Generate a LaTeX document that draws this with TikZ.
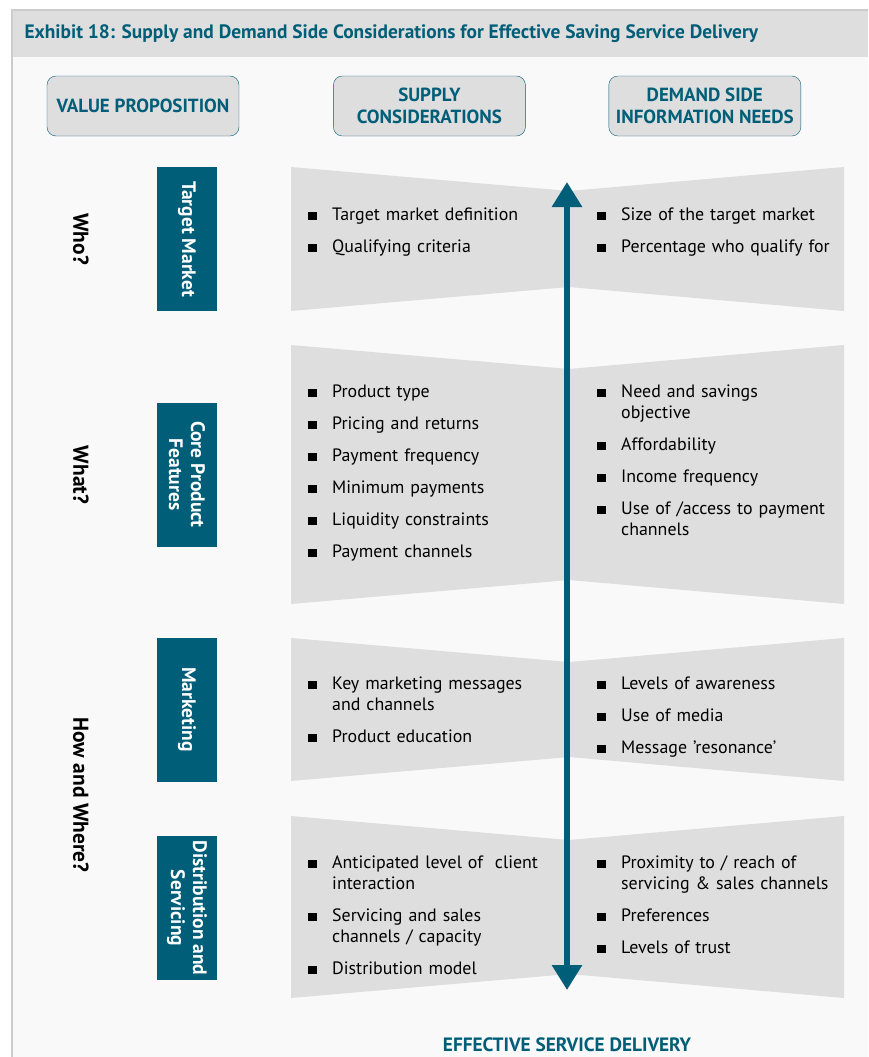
\documentclass[tikz,border=0pt]{standalone}
\usepackage{fontspec}
\setmainfont{PT Sans}
\usepackage{xcolor}
\usetikzlibrary{arrows.meta, positioning}
\definecolor{petrol}{RGB}{0,94,120}
\definecolor{panelgray}{RGB}{222,222,222}
\definecolor{pagegray}{RGB}{249,249,249}
\definecolor{rulegray}{RGB}{204,204,204}

% one bullet entry of a list, hanging indent for wrapped lines
\newcommand{\itm}[1]{\hangindent=24pt\hangafter=1
  \makebox[24pt][l]{\rule{8.5pt}{8.5pt}}#1\par}
\newcommand{\nl}{\hfil\break}

\begin{document}
\begin{tikzpicture}[
  x=1pt, y=-1pt,
  hdr/.style={rectangle, rounded corners=9pt, draw=petrol, fill=panelgray,
              minimum width=192pt, minimum height=60pt, align=center,
              text=petrol, font=\bfseries\fontsize{19}{22}\selectfont},
  tab/.style={rectangle, fill=petrol, text=white, rotate=-90,
              minimum width=144pt, minimum height=60pt, align=center,
              inner sep=2pt, font=\bfseries\fontsize{19.5}{22}\selectfont},
  ask/.style={rotate=-90, font=\bfseries\fontsize{21.5}{24}\selectfont},
  lst/.style={anchor=base west, inner sep=0pt, text width=255pt,
              font=\fontsize{17.9}{21}\selectfont,
              execute at begin node={\setlength{\parskip}{11pt}}},
  arr/.style={{Triangle[length=25pt, width=29pt]}-{Triangle[length=25pt, width=29pt]},
              line width=6pt, color=petrol},
]
  \useasboundingbox (0,0) rectangle (868,1057);
  % page, title band and frame
  \fill[white] (0,0) rectangle (868,1057);
  \fill[pagegray] (12,10) rectangle (868,1057);
  \fill[panelgray] (12,11) rectangle (868,57);
  \draw[rulegray, line width=2.5pt] (12,1057) -- (12,10) -- (868,10);
  \node[anchor=west, text=petrol, font=\bfseries\fontsize{19.4}{22}\selectfont]
    (title) at (21,34) {Exhibit 18: Supply and Demand Side Considerations for Effective Saving Service Delivery};

  % column heads
  \node[hdr] (vp) at (143,106) {VALUE PROPOSITION};
  \node[hdr, right=94pt of vp] (sup) {SUPPLY\\CONSIDERATIONS};
  \node[hdr, right=83pt of sup] (dem) {DEMAND SIDE\\INFORMATION NEEDS};

  % bow-tie panels behind the lists
  \foreach \t/\b in {167/311, 345/604, 638/781, 816/998}
    \fill[panelgray] (291,\t) -- (569,\t+24) -- (844,\t) -- (844,\b)
      -- (569,\b-24) -- (291,\b) -- cycle;

  % questions and value proposition tabs
  \node[ask] (who) at (81,239) {Who?};
  \node[ask] (what) at (81,475) {What?};
  \node[ask] (how) at (81,795) {How and Where?};
  \node[tab] (tm) at (187,239) {Target Market};
  \node[tab] (cpf) at (187,474.5) {Core Product\\Features};
  \node[tab] (mkt) at (187,709.5) {Marketing};
  \node[tab] (dis) at (187,908) {Distribution and\\Servicing};

  % supply side lists
  \node[lst] (s1) at (308,220) {\itm{Target market definition}\itm{Qualifying criteria}};
  \node[lst] (s2) at (308,397) {\itm{Product type}\itm{Pricing and returns}
    \itm{Payment frequency}\itm{Minimum payments}\itm{Liquidity constraints}
    \itm{Payment channels}};
  \node[lst] (s3) at (308,689) {\itm{Key marketing messages\nl and channels}
    \itm{Product education}};
  \node[lst] (s4) at (308,868) {\itm{Anticipated level of~ client\nl interaction}
    \itm{Servicing and sales\nl channels / capacity}\itm{Distribution model}};

  % demand side lists
  \node[lst] (d1) at (597,220) {\itm{Size of the target market}
    \itm{Percentage who qualify for}};
  \node[lst] (d2) at (597,397) {\itm{Need and savings\nl objective}\itm{Affordability}
    \itm{Income frequency}\itm{Use of /access to payment\nl channels}};
  \node[lst] (d3) at (597,689) {\itm{Levels of awareness}\itm{Use of media}
    \itm{Message 'resonance'}};
  \node[lst] (d4) at (597,868) {\itm{Proximity to / reach of\nl servicing \& sales channels}
    \itm{Preferences}\itm{Levels of trust}};

  % delivery axis
  \coordinate (up) at (567,182);
  \coordinate (down) at (567,990);
  \draw[arr] (down) -- (up);
  \node[text=petrol, font=\bfseries\fontsize{19.3}{22}\selectfont] (esd) at (567,1045)
    {EFFECTIVE SERVICE DELIVERY};
\end{tikzpicture}
\end{document}
